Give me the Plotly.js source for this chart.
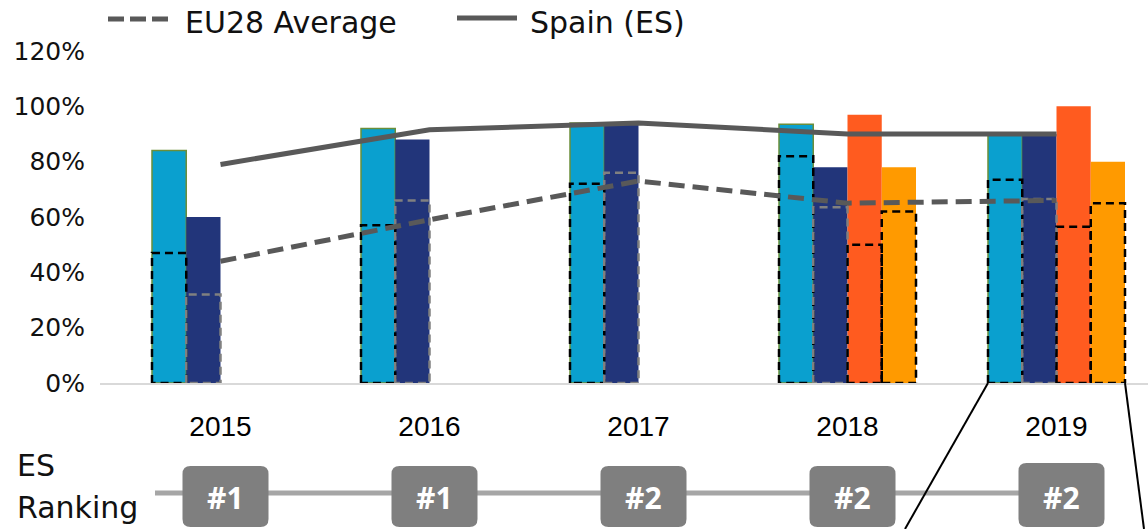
<!DOCTYPE html>
<html>
<head>
<meta charset="utf-8">
<script src="https://cdn.plot.ly/plotly-3.0.1.min.js"></script>
<style>
  html, body { margin: 0; padding: 0; background: #fff; }
  #chart { width: 1148px; height: 529px; }
</style>
</head>
<body>
<div id="chart"></div>
<script>
// years on the x axis
const years = [2015, 2016, 2017, 2018, 2019];

// ES values per indicator (bars)
const es1 = [0.84, 0.92, 0.94, 0.935, 0.90];   // cyan
const es2 = [0.60, 0.88, 0.94, 0.78, 0.90];    // navy
const es3 = [null, null, null, 0.97, 1.00];    // red-orange
const es4 = [null, null, null, 0.78, 0.80];    // orange

// EU28 values per indicator (dashed outlines)
const eu1 = [0.47, 0.57, 0.72, 0.82, 0.735];
const eu2 = [0.32, 0.66, 0.76, 0.635, 0.665];
const eu3 = [null, null, null, 0.50, 0.565];
const eu4 = [null, null, null, 0.62, 0.65];

// overall lines
const spainAvg = [0.79, 0.915, 0.94, 0.90, 0.90];
const eu28Avg = [0.44, 0.59, 0.73, 0.65, 0.66];

// ES ranking per year
const ranking = ['#1', '#1', '#2', '#2', '#2'];

// plot box in pixels: left 100, top 51, width 1048, height 332
const fx = p => (p - 100) / 1048;
const fy = p => (383 - p) / 332;
const unit = 209;          // px per year
const bw = 34.25 / unit;   // bar width in years
const offs = [-2 * bw, -bw, 0, bw];

const colors = ['#0aa0cf', '#22357a', '#ff5b1f', '#ff9a00'];
const esSeries = [es1, es2, es3, es4];
const euSeries = [eu1, eu2, eu3, eu4];
const euLine = ['#000000', '#808080', '#000000', '#000000'];

const traces = [];

esSeries.forEach((vals, k) => {
  traces.push({
    type: 'bar',
    x: years,
    y: vals,
    width: bw,
    offset: offs[k],
    marker: {
      color: colors[k],
      line: { color: k === 0 ? '#6b8e3a' : colors[k], width: k === 0 ? 1.5 : 0 }
    },
    hoverinfo: 'skip',
    showlegend: false
  });
});

// dashed outlines for EU28 values
euSeries.forEach((vals, k) => {
  const xs = [], ys = [];
  vals.forEach((v, i) => {
    if (v === null) return;
    const x0 = years[i] + offs[k], x1 = x0 + bw;
    xs.push(x0, x0, x1, x1, x0, null);
    ys.push(0, v, v, 0, 0, null);
  });
  traces.push({
    type: 'scatter',
    mode: 'lines',
    x: xs,
    y: ys,
    line: { color: euLine[k], width: 2.5, dash: '8px,5px' },
    hoverinfo: 'skip',
    showlegend: false
  });
});

traces.push({
  type: 'scatter', mode: 'lines', name: 'EU28 Average',
  x: years, y: eu28Avg,
  line: { color: '#595959', width: 5, dash: '16px,8px' },
  showlegend: false
});
traces.push({
  type: 'scatter', mode: 'lines', name: 'Spain (ES)',
  x: years, y: spainAvg,
  line: { color: '#595959', width: 5 },
  showlegend: false
});

const shapes = [];
const annotations = [];

// hand-made legend
shapes.push({ type: 'line', xref: 'paper', yref: 'paper', x0: fx(108), x1: fx(170), y0: fy(19), y1: fy(19),
  line: { color: '#595959', width: 5, dash: '16px,6px' } });
shapes.push({ type: 'line', xref: 'paper', yref: 'paper', x0: fx(457), x1: fx(517), y0: fy(18), y1: fy(18),
  line: { color: '#595959', width: 5 } });
annotations.push({ xref: 'paper', yref: 'paper', x: fx(183), y: fy(22), xanchor: 'left', yanchor: 'middle',
  text: 'EU28 Average', showarrow: false, font: { family: 'DejaVu Sans', size: 30, color: '#111' } });
annotations.push({ xref: 'paper', yref: 'paper', x: fx(528), y: fy(22), xanchor: 'left', yanchor: 'middle',
  text: 'Spain (ES)', showarrow: false, font: { family: 'DejaVu Sans', size: 30, color: '#111' } });

// ranking row
annotations.push({ xref: 'paper', yref: 'paper', x: fx(15), y: fy(465), xanchor: 'left', yanchor: 'middle',
  text: 'ES', showarrow: false, font: { family: 'DejaVu Sans', size: 30, color: '#111' } });
annotations.push({ xref: 'paper', yref: 'paper', x: fx(15), y: fy(507), xanchor: 'left', yanchor: 'middle',
  text: 'Ranking', showarrow: false, font: { family: 'DejaVu Sans', size: 30, color: '#111' } });
shapes.push({ type: 'line', xref: 'paper', yref: 'paper', x0: fx(155), x1: fx(1030), y0: fy(493), y1: fy(493),
  line: { color: '#a6a6a6', width: 5 } });

const rx = 8 / unit, ry = 8 / 332, hw = 43 / unit;
years.forEach((yr, i) => {
  const cx = yr + 5 / unit;
  const x0 = cx - hw, x1 = cx + hw;
  const yTop = fy(i === 4 ? 463 : 466), yBot = fy(527);
  const path = `M ${x0 + rx},${yTop} L ${x1 - rx},${yTop} Q ${x1},${yTop} ${x1},${yTop - ry} ` +
    `L ${x1},${yBot + ry} Q ${x1},${yBot} ${x1 - rx},${yBot} L ${x0 + rx},${yBot} ` +
    `Q ${x0},${yBot} ${x0},${yBot + ry} L ${x0},${yTop - ry} Q ${x0},${yTop} ${x0 + rx},${yTop} Z`;
  shapes.push({ type: 'path', xref: 'x', yref: 'paper', path: path,
    fillcolor: '#7f7f7f', line: { width: 0 } });
  annotations.push({ xref: 'x', yref: 'paper', x: cx, y: fy(497), xanchor: 'center', yanchor: 'middle',
    text: ranking[i], showarrow: false,
    font: { family: 'Open Sans', size: 30, color: '#ffffff', weight: 'bold' } });
});

// zoom callout lines under 2019
shapes.push({ type: 'line', xref: 'paper', yref: 'paper', x0: fx(988), y0: fy(383), x1: fx(905), y1: fy(529),
  line: { color: '#000', width: 2 } });
shapes.push({ type: 'line', xref: 'paper', yref: 'paper', x0: fx(1125), y0: fy(383), x1: fx(1144), y1: fy(529),
  line: { color: '#000', width: 2 } });

const layout = {
  width: 1148,
  height: 529,
  margin: { l: 100, r: 0, t: 51, b: 146 },
  paper_bgcolor: '#fff',
  plot_bgcolor: '#fff',
  barmode: 'overlay',
  showlegend: false,
  xaxis: {
    range: [2015 - 120.5 / unit, 2015 + 927.5 / unit],
    tickvals: years,
    ticktext: years.map(String),
    showgrid: false,
    zeroline: false,
    showline: true,
    linecolor: '#d9d9d9',
    linewidth: 2,
    ticks: '',
    ticklabelstandoff: 17,
    tickfont: { family: 'Liberation Sans', size: 28, color: '#000' }
  },
  yaxis: {
    range: [0, 1.2],
    dtick: 0.2,
    tickformat: '.0%',
    showgrid: false,
    zeroline: false,
    showline: false,
    ticks: '',
    ticklabelstandoff: 14,
    tickfont: { family: 'DejaVu Sans', size: 25, color: '#111' }
  },
  shapes: shapes,
  annotations: annotations
};

Plotly.newPlot('chart', traces, layout, { displayModeBar: false, staticPlot: true });
</script>
</body>
</html>
